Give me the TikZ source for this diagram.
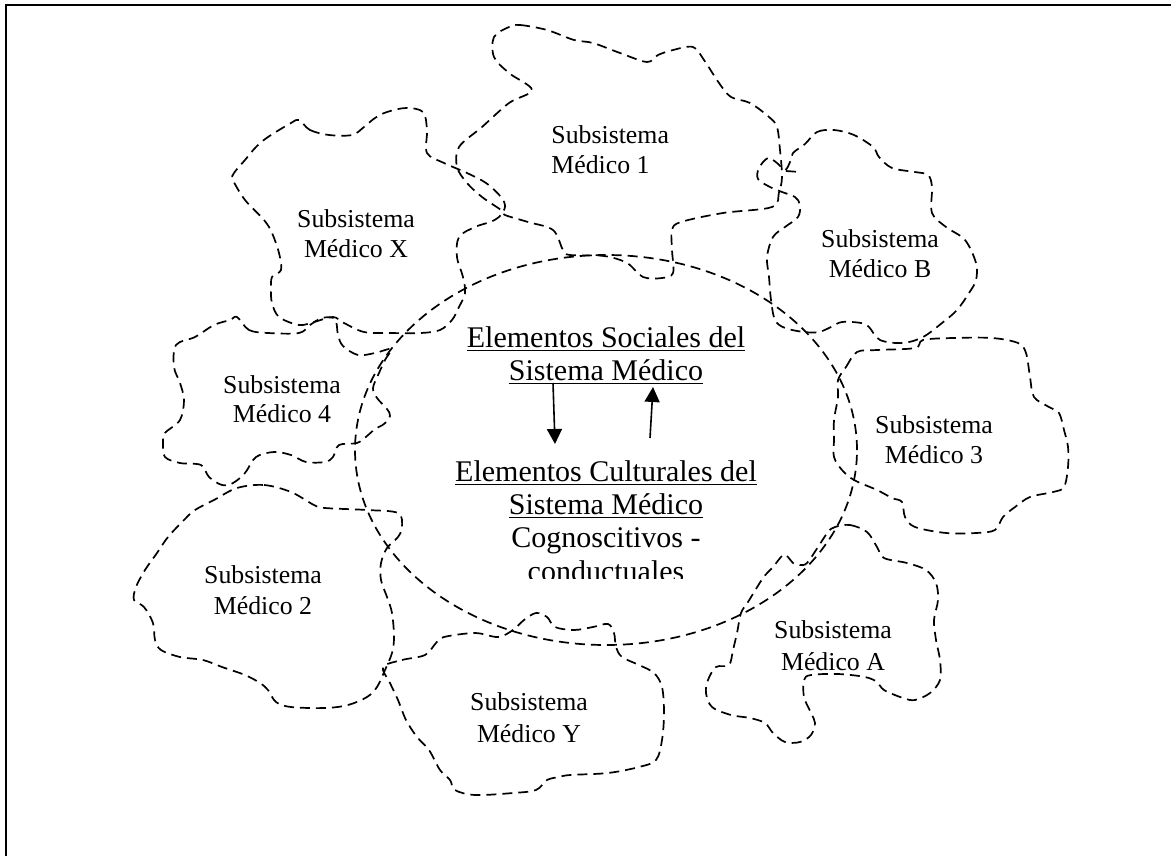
\documentclass[tikz,border=0pt]{standalone}
\usepackage{fontspec}
\setmainfont{Liberation Serif}
\usetikzlibrary{arrows.meta}
\tikzset{
  blob/.style={line width=0.85pt, dash pattern=on 5pt off 3pt, line join=round},
  lbl/.style={font=\fontsize{12.9}{15}\selectfont, inner sep=0pt, anchor=base},
  core/.style={font=\fontsize{15}{16.5}\selectfont, inner sep=0pt, anchor=base},
  link/.style={line width=0.8pt, -{Triangle[width=7.5pt,length=7.5pt]}},
}
\begin{document}
\begin{tikzpicture}[x=0.5pt,y=-0.5pt]
\useasboundingbox (0,0) rectangle (1171,856);
% frame
\draw[line width=1pt] (6,856) -- (6,5) -- (1171,5);

% central system
\draw[blob] (606,450) ellipse [x radius=125.5pt, y radius=97.5pt];

% Subsistema Medico 1
\draw[blob] plot[smooth cycle, tension=0.55] coordinates {
(509,27) (520,25) (547,30) (574,40) (593,43) (620,53) (647,62) (658,55) (673,50) (693,47)
(704,60) (719,83) (731,97) (750,103) (769,117) (777,127) (780,150) (782,177) (779,192)
(772,207) (723,213) (681,222) (672,230) (672,250) (673,273) (662,278) (643,277) (627,263)
(604,256) (570,255) (563,250) (553,230) (528,222) (505,215) (501,210) (482,197) (467,183)
(457,167) (459,147) (482,127) (509,103) (532,90) (509,73) (494,57) (494,37)};

% Subsistema Medico X
\draw[blob] plot[smooth cycle, tension=0.55] coordinates {
(299,120) (310,130) (329,135) (352,135) (364,127) (375,118) (387,112) (406,108) (423,112)
(427,130) (427,153) (444,163) (467,173) (486,183) (501,197) (505,207) (499,217) (490,222)
(475,227) (459,237) (457,257) (463,277) (465,293) (459,307) (452,320) (440,330) (421,333)
(390,333) (364,332) (344,323) (333,317) (314,322) (299,325) (279,317) (272,303) (271,290)
(272,277) (281,270) (279,253) (272,233) (264,220) (245,200) (233,180) (234,173) (245,160)
(256,147) (268,137) (291,123)};

% Subsistema Medico 4
\draw[blob] plot[smooth cycle, tension=0.55] coordinates {
(237,317) (249,330) (268,333) (299,333) (310,325) (322,318) (335,319) (338,335) (343,346)
(358,355) (375,353) (391,349) (385,360) (379,373) (373,388) (377,398) (387,409) (390,416)
(384,424) (375,429) (367,436) (357,443) (339,445) (333,457) (325,462) (306,462) (291,455)
(274,452) (256,457) (245,473) (233,483) (222,485) (209,477) (201,465) (180,463) (165,457)
(163,443) (165,433) (180,420) (184,400) (180,383) (174,367) (176,345) (195,337) (214,325)
(230,320)};

% Subsistema Medico 2
\draw[blob] plot[smooth cycle, tension=0.55] coordinates {
(237,488) (264,485) (291,492) (314,505) (325,508) (367,510) (398,513) (402,527) (398,537)
(387,548) (381,563) (381,580) (387,597) (392,613) (394,637) (392,653) (385,670) (377,687)
(367,697) (348,705) (325,708) (291,707) (276,702) (268,690) (260,683) (245,675) (222,667)
(203,660) (180,657) (161,650) (155,640) (153,623) (144,607) (134,600) (136,587) (145,570)
(157,553) (168,537) (184,520) (195,510) (214,500)};

% Subsistema Medico Y
\draw[blob] plot[smooth cycle, tension=0.55] coordinates {
(383,667) (402,660) (425,655) (436,643) (444,637) (475,633) (498,637) (513,630) (524,620)
(536,613) (547,617) (555,627) (574,630) (593,627) (608,624) (614,633) (616,647) (622,657)
(639,665) (654,673) (662,687) (664,713) (662,740) (656,760) (639,767) (608,773) (570,775)
(559,777) (547,780) (536,790) (513,793) (475,795) (455,790) (450,780) (440,770) (429,750)
(417,737) (406,720) (398,700) (390,683)};

% Subsistema Medico A
\draw[blob] plot[smooth cycle, tension=0.55] coordinates {
(835,527) (850,525) (867,532) (877,547) (884,558) (907,563) (926,570) (936,583) (938,600)
(934,620) (936,640) (940,660) (940,680) (930,693) (915,700) (903,698) (884,690) (877,682)
(865,677) (838,674) (811,675) (804,680) (804,697) (811,713) (815,723) (811,735) (800,742)
(785,742) (773,733) (765,723) (750,718) (731,715) (712,707) (706,693) (708,680) (716,667)
(729,665) (733,650) (737,633) (741,613) (748,602) (763,578) (773,567) (783,555) (788,557)
(793,563) (800,565) (807,563) (818,547) (828,532)};

% Subsistema Medico 3
\draw[blob] plot[smooth cycle, tension=0.55] coordinates {
(838,380) (846,367) (857,352) (877,350) (915,348) (923,340) (953,338) (992,338) (1018,343)
(1026,353) (1030,377) (1034,397) (1049,407) (1059,413) (1064,430) (1068,447) (1068,467)
(1064,487) (1053,492) (1030,497) (1015,507) (1003,517) (995,530) (976,533) (946,533)
(915,527) (905,517) (902,502) (892,498) (877,490) (854,480) (842,470) (834,457) (834,440)
(834,420) (838,397)};

% Subsistema Medico B
\draw[blob] plot[smooth cycle, tension=0.55] coordinates {
(805,144) (817,132) (834,130) (854,135) (873,147) (879,157) (892,168) (915,172)
(928,175) (932,187) (932,213) (946,227) (965,240) (976,263) (976,280) (969,293) (957,310)
(942,323) (923,337) (903,343) (880,340) (869,327) (861,323) (842,322) (831,327) (819,332)
(804,332) (785,328) (775,320) (771,300) (769,277) (767,257) (773,237) (785,227) (798,217)
(800,205) (795,197) (782,192) (770,187) (758,179) (759,168) (768,158) (777,163) (785,170)
(790,162) (793,153)};
\draw[blob] (786,171) -- (800,172);

% subsystem labels
\node[lbl, anchor=base west] (m1a) at (551,143) {Subsistema};
\node[lbl, anchor=base west] (m1b) at (551,173) {Médico 1};
\node[lbl] (mxa) at (356,227) {Subsistema};
\node[lbl] (mxb) at (356,257) {Médico X};
\node[lbl] (mba) at (880,247) {Subsistema};
\node[lbl] (mbb) at (880,277) {Médico B};
\node[lbl] (m4a) at (282,393) {Subsistema};
\node[lbl] (m4b) at (282,422) {Médico 4};
\node[lbl] (m3a) at (934,433) {Subsistema};
\node[lbl] (m3b) at (934,463) {Médico 3};
\node[lbl] (m2a) at (263,583) {Subsistema};
\node[lbl] (m2b) at (263,614) {Médico 2};
\node[lbl] (mya) at (529,710) {Subsistema};
\node[lbl] (myb) at (529,742) {Médico Y};
\node[lbl] (maa) at (833,638) {Subsistema};
\node[lbl] (mab) at (833,670) {Médico A};

% central elements
\node[core] (soc1) at (606,347) {\underline{Elementos Sociales del}};
\node[core] (soc2) at (606,380) {\underline{Sistema Médico}};
\node[core] (cul1) at (606,481) {\underline{Elementos Culturales del}};
\node[core] (cul2) at (606,514) {\underline{Sistema Médico}};
\node[core] (cog) at (606,547) {Cognoscitivos -};
\begin{scope}
  \clip (400,550) rectangle (800,578);
  \node[core] (cond) at (606,581) {conductuales};
\end{scope}

% mutual influence
\coordinate (dnA) at (553,383);
\coordinate (dnB) at (555,444);
\coordinate (upA) at (650,438);
\coordinate (upB) at (653,387);
\draw[link] (dnA) -- (dnB);
\draw[link] (upA) -- (upB);
\end{tikzpicture}
\end{document}
